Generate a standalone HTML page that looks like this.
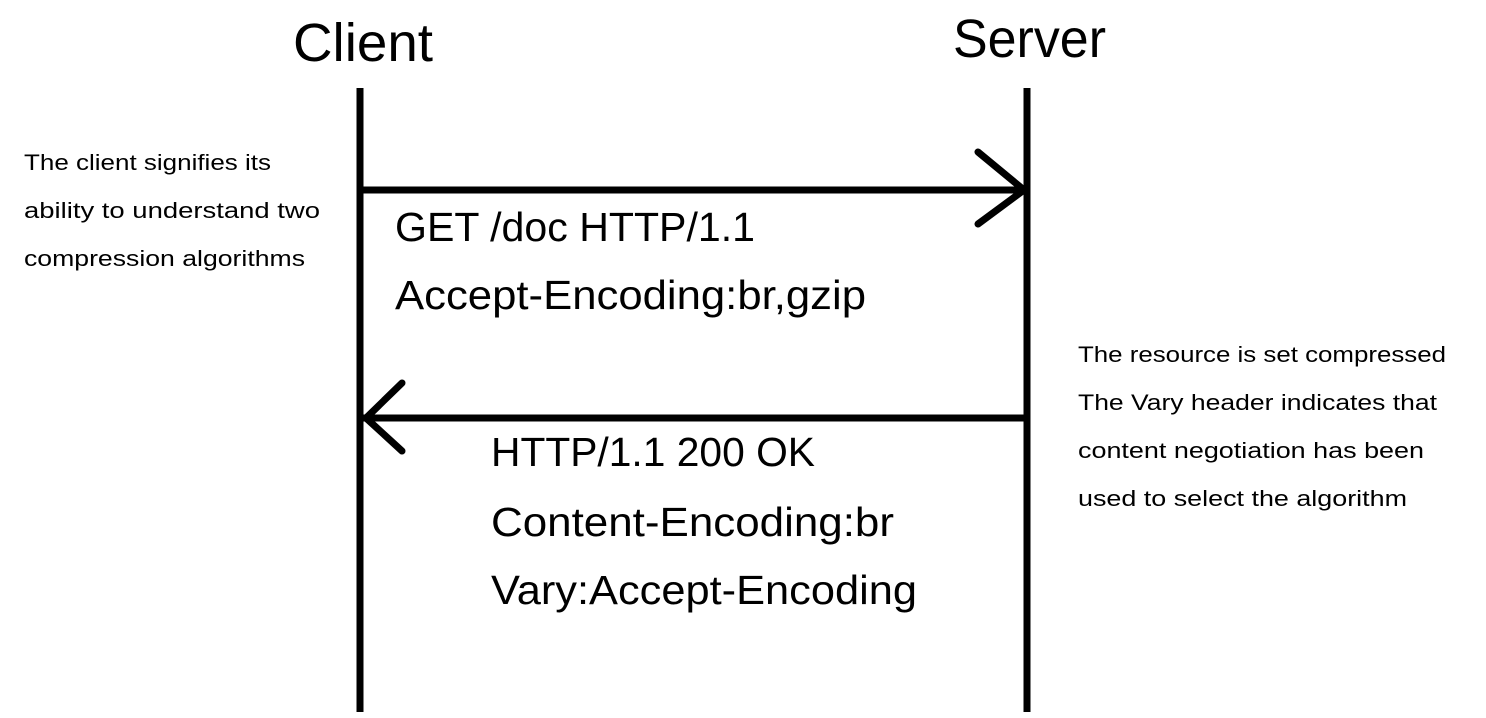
<!DOCTYPE html>
<html><head><meta charset="utf-8"><style>html,body{margin:0;padding:0;background:#fff}svg{display:block}</style></head>
<body>
<svg width="1486" height="718" viewBox="0 0 1486 718" xmlns="http://www.w3.org/2000/svg" font-family="'Liberation Sans',sans-serif" fill="#000">
<g stroke="#000" stroke-width="7" fill="none" stroke-linecap="round">
<line x1="360" y1="88" x2="360" y2="712" stroke-linecap="butt"/>
<line x1="1027" y1="88" x2="1027" y2="712" stroke-linecap="butt"/>
<line x1="362" y1="190" x2="1027" y2="190" stroke-linecap="butt"/>
<polyline points="978,152 1024,190 978,224"/>
<line x1="362" y1="418" x2="1027" y2="418" stroke-linecap="butt"/>
<polyline points="402,383 366,418 402,451"/>
</g>
<text x="293" y="61" font-size="54" textLength="140" lengthAdjust="spacingAndGlyphs">Client</text>
<text x="953" y="57" font-size="54" textLength="153" lengthAdjust="spacingAndGlyphs">Server</text>
<g font-size="41">
<text x="395" y="241" textLength="360" lengthAdjust="spacingAndGlyphs">GET /doc HTTP/1.1</text>
<text x="395" y="309" textLength="471" lengthAdjust="spacingAndGlyphs">Accept-Encoding:br,gzip</text>
<text x="491" y="466" textLength="324" lengthAdjust="spacingAndGlyphs">HTTP/1.1 200 OK</text>
<text x="491" y="536" textLength="403" lengthAdjust="spacingAndGlyphs">Content-Encoding:br</text>
<text x="491" y="604" textLength="426" lengthAdjust="spacingAndGlyphs">Vary:Accept-Encoding</text>
</g>
<g font-size="22">
<text x="24" y="170" textLength="247" lengthAdjust="spacingAndGlyphs">The client signifies its</text>
<text x="24" y="218" textLength="296" lengthAdjust="spacingAndGlyphs">ability to understand two</text>
<text x="24" y="266" textLength="281" lengthAdjust="spacingAndGlyphs">compression algorithms</text>
<text x="1078" y="362" textLength="368" lengthAdjust="spacingAndGlyphs">The resource is set compressed</text>
<text x="1078" y="410" textLength="359" lengthAdjust="spacingAndGlyphs">The Vary header indicates that</text>
<text x="1078" y="458" textLength="346" lengthAdjust="spacingAndGlyphs">content negotiation has been</text>
<text x="1078" y="506" textLength="329" lengthAdjust="spacingAndGlyphs">used to select the algorithm</text>
</g>
</svg>
</body></html>
